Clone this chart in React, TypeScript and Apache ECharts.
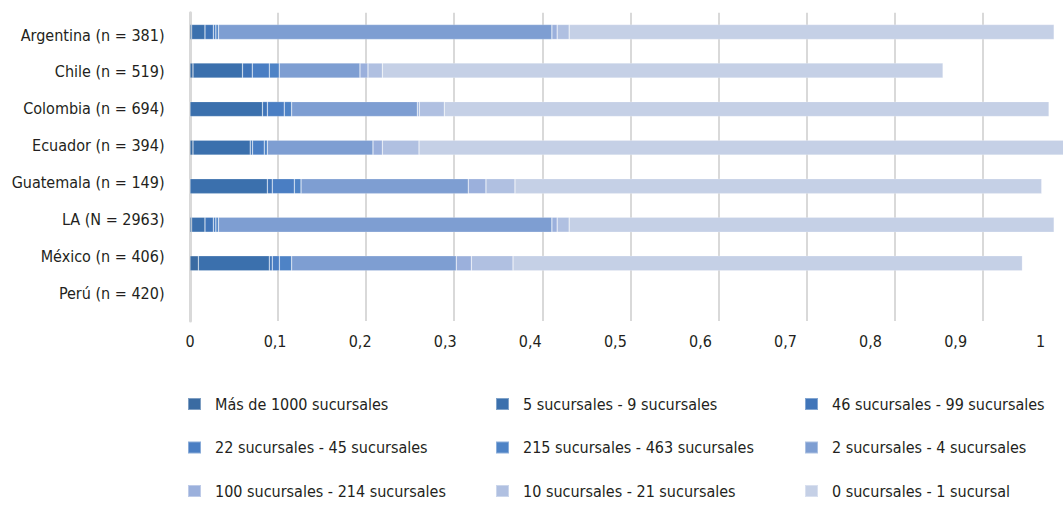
import React, { useEffect, useRef } from "react";
import * as echarts from "echarts";

const categories = [
  "Argentina (n = 381)",
  "Chile (n = 519)",
  "Colombia (n = 694)",
  "Ecuador (n = 394)",
  "Guatemala (n = 149)",
  "LA (N = 2963)",
  "México (n = 406)",
  "Perú (n = 420)",
];

const seriesNames = [
  "Más de 1000 sucursales",
  "5 sucursales - 9 sucursales",
  "46 sucursales - 99 sucursales",
  "22 sucursales - 45 sucursales",
  "215 sucursales - 463 sucursales",
  "2 sucursales - 4 sucursales",
  "100 sucursales - 214 sucursales",
  "10 sucursales - 21 sucursales",
  "0 sucursales - 1 sucursal",
];

const seriesColors = [
  "#3a6ba2",
  "#3b70ad",
  "#4075b9",
  "#4a7ec3",
  "#4e83c6",
  "#7e9ed2",
  "#9bb0dc",
  "#b0c0e1",
  "#c5d0e6",
];

// order: Argentina, Chile, Colombia, Ecuador, Guatemala, LA, México, Perú
const masDe1000 = [0.002, 0.0035, 0, 0.0035, 0, 0.002, 0.0098, null];
const s5a9 = [0.0156, 0.0582, 0.0852, 0.0673, 0.0909, 0.0156, 0.0834, null];
const s46a99 = [0.0098, 0.0115, 0.0057, 0.0027, 0.0058, 0.0098, 0.0035, null];
const s22a45 = [0.003, 0.02, 0.0199, 0.0138, 0.0259, 0.003, 0.0083, null];
const s215a463 = [0.003, 0.0117, 0.0087, 0.0036, 0.0079, 0.003, 0.0145, null];
const s2a4 = [0.392, 0.0949, 0.1477, 0.1242, 0.1966, 0.392, 0.1935, null];
const s100a214 = [0.0062, 0.0094, 0.0023, 0.011, 0.0208, 0.0062, 0.0177, null];
const s10a21 = [0.0141, 0.0169, 0.0294, 0.0431, 0.0341, 0.0141, 0.049, null];
const s0a1 = [0.5701, 0.6591, 0.7109, 0.7608, 0.6192, 0.5701, 0.5988, null];

const seriesValues = [
  masDe1000,
  s5a9,
  s46a99,
  s22a45,
  s215a463,
  s2a4,
  s100a214,
  s10a21,
  s0a1,
];

const FONT = '"DejaVu Sans Condensed", "Liberation Sans Narrow", sans-serif';
const TEXT = "#231f20";
const GRID_W = 1100;
const LABEL_AXIS_MAX = GRID_W / 850.7;
const LINE_AXIS_MAX = GRID_W / 880.8;

export default function App() {
  const ref = useRef<HTMLDivElement>(null);

  useEffect(() => {
    if (!ref.current) return;
    const chart = echarts.init(ref.current, undefined, { renderer: "svg" });

    const legendCol = (idx: number[], left: number) => ({
      orient: "vertical",
      left,
      top: 394,
      padding: 0,
      itemWidth: 13,
      itemHeight: 12,
      itemGap: 23.5,
      selectedMode: false,
      icon: "rect",
      data: idx.map((i) => seriesNames[i]),
      textStyle: {
        fontFamily: FONT,
        fontSize: 16,
        color: TEXT,
        lineHeight: 20,
        padding: [0, 0, 0, 9],
      },
    });

    chart.setOption({
      animation: false,
      textStyle: { fontFamily: FONT },
      grid: [
        {
          left: 190,
          top: 12.7,
          width: GRID_W,
          height: 308.4,
          containLabel: false,
          outerBoundsMode: "none",
        },
        {
          left: 190,
          top: 16.55,
          width: GRID_W,
          height: 295.2,
          containLabel: false,
          outerBoundsMode: "none",
        },
      ],
      xAxis: [
        {
          type: "value",
          gridIndex: 0,
          position: "bottom",
          min: 0,
          max: LABEL_AXIS_MAX,
          interval: 0.1,
          axisLine: { show: false },
          axisTick: { show: false },
          splitLine: { show: false },
          axisLabel: {
            fontFamily: FONT,
            fontSize: 16,
            color: TEXT,
            margin: 12,
            formatter: (v: number) =>
              v > 1.0001
                ? ""
                : String(Math.round(v * 100) / 100).replace(".", ","),
          },
        },
        {
          type: "value",
          gridIndex: 0,
          position: "top",
          min: 0,
          max: LINE_AXIS_MAX,
          interval: 0.1,
          axisLine: { show: false },
          axisTick: { show: false },
          axisLabel: { show: false },
          splitLine: { show: true, lineStyle: { color: "#d9d9d9", width: 2 } },
        },
        { type: "value", gridIndex: 1, show: false },
      ],
      yAxis: [
        {
          type: "category",
          gridIndex: 0,
          data: categories,
          inverse: true,
          axisLabel: { show: false },
          axisTick: { show: false },
          axisLine: { show: true, lineStyle: { color: "#d9d9d9", width: 3 } },
        },
        {
          type: "category",
          gridIndex: 1,
          data: categories,
          inverse: true,
          axisTick: { show: false },
          axisLine: { show: false },
          axisLabel: {
            fontFamily: FONT,
            fontSize: 16,
            color: TEXT,
            margin: 25.5,
          },
        },
      ],
      legend: [
        legendCol([0, 3, 6], 187),
        legendCol([1, 4, 7], 495),
        legendCol([2, 5, 8], 804),
      ],
      series: seriesNames.map((name, i) => ({
        name,
        type: "bar",
        stack: "total",
        xAxisIndex: 0,
        yAxisIndex: 0,
        barWidth: 15,
        data: seriesValues[i],
        itemStyle: {
          color: seriesColors[i],
          borderColor: "rgba(255,255,255,0.35)",
          borderWidth: 0.6,
        },
      })),
    });

    return () => chart.dispose();
  }, []);

  return (
    <div
      ref={ref}
      style={{
        position: "fixed",
        left: 0,
        top: 0,
        width: 1063,
        height: 505,
        overflow: "hidden",
        background: "#fff",
      }}
    />
  );
}
